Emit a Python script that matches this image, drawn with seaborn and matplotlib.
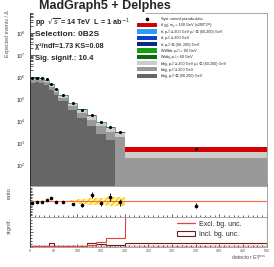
import numpy as np
import pandas as pd
import matplotlib
matplotlib.use("Agg")
import matplotlib.pyplot as plt
from matplotlib.patches import Patch, Rectangle
from matplotlib.lines import Line2D
import seaborn as sns

# binning (GeV) of detector MET
edges = [0, 10, 20, 30, 40, 50, 60, 80, 100, 120, 140, 160, 180, 200, 500]

# stacked backgrounds + signal, events per bin
processes = ["signal", "tt_hh_mid", "tt_hh", "tt_mid", "wwbb", "wbbj", "bbjj_hh_mid", "bbjj_hh", "bbjj_mid"]
sig_vals = [150, 150, 150, 140, 120, 100, 90, 80, 70, 60, 70, 100, 270, 250]
tt_hh_mid_vals = [1000, 1000, 900, 800, 500, 300, 200, 100, 60, 40, 20, 10, 5, 2]
tt_hh_vals = [800, 900, 800, 700, 400, 300, 180, 90, 50, 30, 20, 10, 10, 3]
tt_mid_vals = [2000, 2000, 1800, 1500, 1000, 700, 400, 200, 100, 60, 40, 20, 15, 5]
wwbb_vals = [6000, 6000, 5000, 4000, 2500, 2000, 1200, 500, 300, 200, 100, 70, 40, 10]
wbbj_vals = [9000, 9000, 8000, 6000, 4000, 3000, 2000, 800, 450, 300, 150, 100, 60, 15]
bbjj_hh_mid_vals = [1.5e5, 1.55e5, 1.43e5, 1.33e5, 8.8e4, 5.8e4, 3.3e4, 1.6e4, 9.2e3, 5.4e3, 2.9e3, 1.7e3, 850, 170]
bbjj_hh_vals = [1.9e5, 1.95e5, 1.85e5, 1.65e5, 1.05e5, 6.6e4, 3.7e4, 1.75e4, 9.5e3, 5.5e3, 3.0e3, 1.9e3, 1.9e3, 200]
bbjj_mid_vals = [5.5e5, 5.7e5, 5.1e5, 4.4e5, 2.5e5, 1.5e5, 7.8e4, 3.0e4, 1.4e4, 6.0e3, 2.6e3, 1.3e3, 0, 0]

data_vals = [8.9e5, 9.3e5, 8.5e5, 7.6e5, 4.7e5, 2.8e5, 1.5e5, 6.3e4, 3.2e4, 1.9e4, 8.7e3, 5.5e3, 3.1e3, 540]

# ratio panel
ratio_vals = [0.98, 0.987, 0.995, 1.017, 1.043, 0.995, 0.987, 0.965, 0.952, 1.086, 0.974, 1.06, 0.987, 0.943]
ratio_err = [0.006, 0.006, 0.006, 0.007, 0.008, 0.01, 0.012, 0.015, 0.02, 0.04, 0.035, 0.05, 0.05, 0.03]
syst_unc = [0.008, 0.008, 0.008, 0.008, 0.008, 0.008, 0.01, 0.015, 0.03, 0.05, 0.05, 0.06, 0.06, 0.008]

# significance panel
excl_vals = [0.2, 0.2, 0.2, 0.25, 0.25, 0.2, 0.25, 0.3, 0.4, 0.57, 1.7, 2.8, 3.0, 30]
incl_vals = [0.2, 0.25, 0.3, 0.35, 1.3, 0.3, 0.3, 0.3, 0.35, 1.1, 0.8, 0.6, 0.6, 1.3]

labels = [
    "tt\u0304 χχ\u0304, mᵪ = 100 GeV (x200*2¹¹)",
    "tt\u0304, pₜʲ'ʲ ≥ 200 GeV pₜᵗ ∈ (60,200) GeV",
    "tt\u0304, pₜʲ'ʲ ≥ 200 GeV",
    "tt\u0304, pₜʲ'ʲ ∈ (60, 200) GeV",
    "WWbb, pₜʲ'ʲ > 60 GeV",
    "Wbbj, pₜʲ > 60 GeV",
    "bbjj, pₜʲ'ʲ ≥ 200 GeV pₜʲ ∈ (60,200) GeV",
    "bbjj, pₜʲ'ʲ ≥ 200 GeV",
    "bbjj, pₜʲ'ʲ ∈ (60,200) GeV",
]
colors = ["#d40000", "#2a9df4", "#0a3fd0", "#0a2a8a", "#10a010", "#0b6b0b", "#cccccc", "#999999", "#666666"]

sns.set_style("ticks")
plt.rcParams["font.family"] = ["Liberation Sans", "DejaVu Sans"]
plt.rcParams["mathtext.fontset"] = "dejavusans"

centers = [(a + b) / 2 for a, b in zip(edges[:-1], edges[1:])]
all_vals = [sig_vals, tt_hh_mid_vals, tt_hh_vals, tt_mid_vals, wwbb_vals, wbbj_vals,
            bbjj_hh_mid_vals, bbjj_hh_vals, bbjj_mid_vals]
rows = []
for p, vals in zip(processes, all_vals):
    for c, v in zip(centers, vals):
        rows.append({"met": c, "w": v, "process": p})
df = pd.DataFrame(rows)
stack_total = df.groupby("met")["w"].sum().values

fig = plt.figure(figsize=(2.74, 2.67), dpi=100)
L, W = 0.1095, 0.864
ax = fig.add_axes([L, 0.3034, W, 0.648])
axr = fig.add_axes([L, 0.1884, W, 0.115])
axs = fig.add_axes([L, 0.076, W, 0.1124])

edge_grey = "#999999"

# main stacked histogram
sns.histplot(data=df, x="met", weights="w", hue="process", hue_order=processes,
             multiple="stack", bins=edges, palette=colors, element="bars",
             linewidth=0, alpha=1, legend=False, ax=ax)
ax.set_yscale("log")
ax.set_ylim(11, 8e8)
ax.set_xlim(0, 500)
# thin syst. line on top of the low-MET stack
ax.stairs(stack_total[:-1], edges[:-1], color="#2a7f66", lw=0.5, baseline=None)
sns.scatterplot(x=centers, y=data_vals, color="black", s=5, linewidth=0, ax=ax, zorder=5)

ax.set_xlabel("")
ax.set_ylabel("")
ax.set_xticklabels([])
ax.spines["top"].set_visible(False)
ax.spines["left"].set_color("#222222")
for s in ["right", "bottom"]:
    ax.spines[s].set_color(edge_grey)
for s in ax.spines.values():
    s.set_linewidth(0.6)
ax.plot([0.49, 1], [1, 1], transform=ax.transAxes, color=edge_grey, lw=0.6, clip_on=False)
ax.tick_params(axis="both", which="both", direction="in", labelsize=3.5, colors="#222222", width=0.5)
ax.tick_params(axis="y", which="major", length=3.5)
ax.tick_params(axis="y", which="minor", length=1.8)
ax.tick_params(axis="x", which="major", length=2.5)
ax.set_yticks([1e2, 1e3, 1e4, 1e5, 1e6, 1e7, 1e8])
ax.xaxis.set_minor_locator(matplotlib.ticker.MultipleLocator(10))
ax.tick_params(axis="x", which="minor", length=1.2)

# legend, laid out by hand in axes fraction (ROOT-like tight rows)
ax_h_px = 173.0
row0, drow = 19.0, 6.3
x_box0, x_box1, x_txt = 0.452, 0.537, 0.553
leg_labels = ["Syst. varied pseudo-data"] + labels
for i, lab in enumerate(leg_labels):
    yc = 1 - (row0 + i * drow - 13) / ax_h_px
    if i == 0:
        ax.plot([(x_box0 + x_box1) / 2], [yc], "o", color="black", ms=1.6,
                transform=ax.transAxes, clip_on=False)
    else:
        hh = 4.2 / ax_h_px
        ax.add_patch(Rectangle((x_box0, yc - hh / 2), x_box1 - x_box0, hh,
                               transform=ax.transAxes, facecolor=colors[i - 1],
                               edgecolor="none", clip_on=False, zorder=6))
    ax.text(x_txt, yc, lab, transform=ax.transAxes, ha="left", va="center",
            fontsize=2.7, color="#222222", zorder=6)

# ratio panel
ext_unc = syst_unc + [syst_unc[-1]]
axr.fill_between(edges, [1 - u for u in ext_unc], [1 + u for u in ext_unc], step="post",
                 facecolor="#fff6b0", edgecolor="#f5d000", hatch="//////", linewidth=0)
axr.fill_between(edges, 0.992, 1.008, color="#ffb090", linewidth=0)
axr.axhline(1, color="#ff6a3d", lw=0.8)
axr.errorbar(centers, ratio_vals, yerr=ratio_err, fmt="o", color="black", ms=1.6,
             elinewidth=0.6, capsize=0, zorder=5)
axr.set_xlim(0, 500)
axr.set_ylim(0.8, 1.2)
axr.set_xticklabels([])
axr.set_yticklabels([])
axr.yaxis.set_minor_locator(matplotlib.ticker.MultipleLocator(0.02))
axr.set_yticks([0.9, 1.0, 1.1])

# significance panel
axs.fill_between([edges[0], edges[-1]], 0, 0.55, facecolor="none", edgecolor="#e03030",
                 hatch="......", linewidth=0)
axs.stairs(incl_vals, edges, color="#6b2020", lw=0.8)
axs.stairs(excl_vals, edges, color="#e84040", lw=0.8)
axs.set_xlim(0, 500)
axs.set_ylim(0, 10)
axs.set_yticklabels([])
axs.set_yticks([0, 5, 10])
axs.yaxis.set_minor_locator(matplotlib.ticker.MultipleLocator(1))
axs.set_xticks(range(0, 501, 50))
axs.xaxis.set_minor_locator(matplotlib.ticker.MultipleLocator(10))
axs.legend([Line2D([], [], color="#e84040", lw=0.9),
            Patch(facecolor="white", edgecolor="#6b2020", linewidth=0.8)],
           ["Excl. bg. unc.", "Incl. bg. unc."], loc="upper left",
           bbox_to_anchor=(0.62, 0.86), frameon=False, fontsize=5,
           handlelength=2.6, handletextpad=0.6, labelspacing=0.45,
           borderpad=0, borderaxespad=0)

for a in (axr, axs):
    for s in a.spines.values():
        s.set_color(edge_grey)
        s.set_linewidth(0.6)
    a.spines["left"].set_color("#222222")
    a.tick_params(axis="both", which="both", direction="in", labelsize=2.6,
                  colors="#222222", width=0.5)
    a.tick_params(which="major", length=2.5)
    a.tick_params(which="minor", length=1.2)
    a.set_xlabel("")
    a.set_ylabel("")
axr.xaxis.set_minor_locator(matplotlib.ticker.MultipleLocator(10))
axs.tick_params(axis="x", labelcolor="#555555", pad=1.5)

# texts
fig.text(0.383, 1 - 6.3 / 267, "MadGraph5 + Delphes", ha="center", va="center",
         fontsize=9, fontweight="bold")
fig.text(35 / 274, 1 - 23 / 267, r"pp  $\sqrt{s}$ = 14 TeV  L = 1 ab$^{-1}$",
         ha="left", va="center", fontsize=5.2, fontweight="bold")
fig.text(35 / 274, 1 - 34 / 267, "Selection: 0B2S", ha="left", va="center",
         fontsize=6, fontweight="bold")
fig.text(35 / 274, 1 - 47 / 267, "χ²/ndf=1.73 KS=0.08", ha="left", va="center",
         fontsize=5.2, fontweight="bold")
fig.text(35 / 274, 1 - 59 / 267, "Sig. signif.: 10.4", ha="left", va="center",
         fontsize=5.5, fontweight="bold")
fig.text(8 / 274, 1 - 10 / 267, "Expected events / Δ", rotation=90, ha="center",
         va="top", fontsize=3.8, color="#555555")
fig.text(9 / 274, 1 - 193 / 267, "ratio", rotation=90, ha="center", va="center",
         fontsize=4.5, color="#555555")
fig.text(9 / 274, 1 - 226 / 267, "signif.", rotation=90, ha="center", va="center",
         fontsize=4.5, color="#555555")
fig.text(266 / 274, 1 - 258 / 267, r"detector E$_\mathregular{T}^\mathregular{miss}$",
         ha="right", va="center", fontsize=4, color="#555555")

fig.savefig("out.png", dpi=100)
